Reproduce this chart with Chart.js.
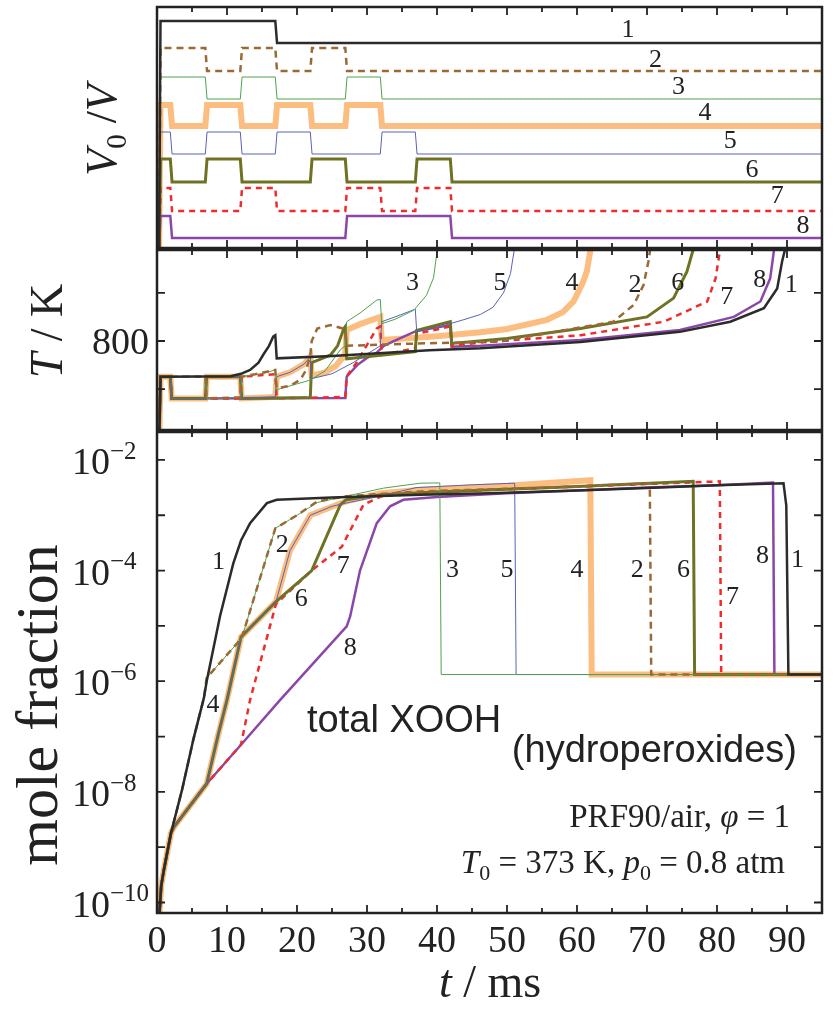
<!DOCTYPE html>
<html>
<head>
<meta charset="utf-8">
<script src="https://cdn.jsdelivr.net/npm/chart.js@4.4.1/dist/chart.umd.min.js"></script>
<style>
  body { margin: 0; background: #fff; }
  #wrap { position: relative; width: 836px; height: 1009px; }
  canvas { position: absolute; left: 0; }
</style>
</head>
<body>
<div id="wrap">
  <canvas id="vol" width="836" height="250" style="top:0px"></canvas>
  <canvas id="temp" width="836" height="182" style="top:249px"></canvas>
  <canvas id="xooh" width="836" height="578" style="top:431px"></canvas>
</div>
<script>
// ---- compression histories: offset levels of V0/V and switching times (ms)
const vLow  = [20.5, 17.7, 14.9, 12.2, 9.4, 6.6, 3.7, 1.0];
const vHigh = [22.7, 20.0, 17.1, 14.3, 11.6, 8.9, 6.0, 3.2];
const vEdges = [
  [17],
  [7, 12, 17, 22, 27],
  [7, 12, 17, 27, 32],
  [2, 7, 12, 17, 22, 27, 32],
  [2, 7, 12, 17, 22, 32, 37],
  [2, 7, 12, 22, 27, 37, 42],
  [2, 12, 17, 27, 32, 37, 42],
  [2, 27, 42]
];

// ---- temperature, [t ms, T K]
const temp1 = [[0,373],[0.5,726],[10.5,727],[12,732],[13.3,740],[14.5,755],[15.2,772],[16,790],[16.6,809],[16.9,812],[17.1,764],[25,769],[38.9,781],[46.2,785],[60.5,798],[74.7,819],[81.9,840],[86.7,868],[88.6,909],[89.3,965],[89.8,995]];
const temp2 = [[0,373],[0.5,726],[6.9,726],[7.1,681],[11.9,683],[12.1,726],[14,731],[16.9,740],[17.1,702],[19,707],[20.5,720],[21.3,740],[21.9,770],[22.1,800],[22.9,826],[24.8,833],[26.5,826],[26.9,820],[27.1,790],[35,794],[49,799],[55.7,816],[65.2,840],[68.1,875],[69.5,916],[70.2,965],[70.5,995]];
const temp3 = [[0,373],[0.5,726],[6.9,726],[7.1,681],[11.9,683],[12.1,726],[15.2,733],[16.9,740],[17.1,699],[21.9,719],[24,738],[26.2,782],[26.9,790],[27.1,840],[29,858],[31.4,885],[31.9,886],[32.1,836],[34,845],[36.7,864],[37.1,871],[38.5,895],[39.5,931],[40.1,995]];
const temp4 = [[0,373],[0.5,726],[1.9,726],[2.1,681],[6.9,681],[7.1,726],[11.9,726],[12.1,681],[16.9,684],[17.1,726],[19,735],[21,752],[21.9,767],[22.1,728],[24,735],[25.5,748],[26.5,765],[26.9,775],[27.1,823],[29,835],[31.9,850],[32.1,802],[40,810],[46.2,818],[50,825],[55.7,844],[58,860],[59.5,882],[60.8,920],[61.4,944],[62,995]];
const temp5 = [[0,373],[0.5,726],[1.9,726],[2.1,681],[6.9,681],[7.1,726],[11.9,726],[12.1,681],[16.9,684],[17.1,726],[19,735],[21,752],[21.9,767],[22.1,722],[25,732],[28,755],[31.9,790],[32.1,840],[34,850],[36.9,866],[37.1,820],[40,828],[44,845],[46.2,855],[48,870],[49.5,900],[50.5,940],[51.1,995]];
const temp6 = [[0,373],[0.5,726],[1.9,726],[2.1,681],[6.9,681],[7.1,726],[11.9,726],[12.1,681],[21.9,683],[22.1,755],[24.8,771],[25.8,790],[26.7,826],[26.9,830],[27.1,763],[36.9,778],[37.1,822],[41.9,840],[42.1,795],[50,805],[60.5,826],[70,850],[73.8,889],[75.7,944],[76.7,995]];
const temp7 = [[0,373],[0.5,726],[1.9,726],[2.1,681],[11.9,681],[12.1,726],[16.9,731],[17.1,681],[26.9,684],[27.1,727],[28.6,757],[30,792],[31.4,826],[31.9,830],[32.1,771],[36.9,785],[37.1,815],[41.9,830],[42.1,790],[46.2,797],[60.5,812],[72.4,840],[78.6,882],[79.8,930],[80.5,995]];
const temp8 = [[0,373],[0.5,726],[1.9,726],[2.1,681],[26.9,682],[27.1,726],[28.6,750],[30,765],[31.4,776],[32.4,790],[34.3,803],[36.9,820],[41.9,833],[42.1,788],[46.2,790],[60.5,802],[74.7,823],[82.4,850],[86.2,882],[87.6,930],[88.2,995]];

// ---- total XOOH mole fraction, [t ms, x]
const xooh1 = [[0.3,5e-11],[0.6,2e-10],[1.0,4e-10],[2.0,1.8e-9],[3.6,1.12e-8],[5.2,8.9e-8],[6.7,5.0e-7],[7.1,1.0e-6],[9.0,1.5e-5],[10.9,1.35e-4],[12.0,3.5e-4],[13.3,7.2e-4],[15.7,1.66e-3],[17.1,1.9e-3],[25,2.1e-3],[37.6,2.34e-3],[47.6,2.5e-3],[60,2.8e-3],[70,3.1e-3],[80,3.5e-3],[89.5,3.8e-3],[89.9,1.5e-3],[90.2,1.32e-6],[95,1.32e-6]];
const xooh2 = [[0.3,5e-11],[0.6,2e-10],[1.0,4e-10],[2.0,1.8e-9],[3.6,1.12e-8],[5.2,8.9e-8],[6.7,5.0e-7],[7.1,1.15e-6],[12.1,6.0e-6],[16.9,5.8e-4],[20,1.0e-3],[22.9,1.78e-3],[27,2.2e-3],[37.6,2.7e-3],[50,3.0e-3],[60,3.3e-3],[70.4,3.8e-3],[70.6,1.32e-6],[95,1.32e-6]];
const xooh3 = [[0.3,5e-11],[0.6,2e-10],[1.0,4e-10],[2.0,1.8e-9],[3.6,1.12e-8],[5.2,8.9e-8],[6.7,5.0e-7],[7.1,1.15e-6],[12.1,6.0e-6],[16.9,5.8e-4],[20,1.0e-3],[22.9,1.7e-3],[25.7,2.04e-3],[32.4,3.1e-3],[37.6,3.8e-3],[40.4,3.85e-3],[40.6,1.32e-6],[95,1.32e-6]];
const xooh4 = [[0.3,5e-11],[0.6,2e-10],[1.0,4e-10],[2.0,1.8e-9],[2.4,2.3e-9],[7.1,1.4e-8],[7.9,3.8e-8],[8.8,1.15e-7],[10,4.6e-7],[12,6.3e-6],[17,2.75e-5],[19,2.3e-4],[21.9,1.0e-3],[25.7,1.55e-3],[27,1.78e-3],[32,2.5e-3],[37.6,2.9e-3],[50,3.4e-3],[61.9,4.3e-3],[62.1,1.32e-6],[95,1.32e-6]];
const xooh5 = [[0.3,5e-11],[0.6,2e-10],[1.0,4e-10],[2.0,1.8e-9],[2.4,2.3e-9],[7.1,1.4e-8],[7.9,3.8e-8],[8.8,1.15e-7],[10,4.6e-7],[12,6.3e-6],[17,2.75e-5],[19,2.3e-4],[21.9,1.0e-3],[25,1.45e-3],[27,1.66e-3],[32,2.24e-3],[37,3.16e-3],[45,3.55e-3],[51.1,3.8e-3],[51.3,1.32e-6],[95,1.32e-6]];
const xooh6 = [[0.3,5e-11],[0.6,2e-10],[1.0,4e-10],[2.0,1.8e-9],[2.4,2.3e-9],[7.1,1.4e-8],[7.9,3.8e-8],[8.8,1.15e-7],[10,4.6e-7],[12,6.3e-6],[17,2.75e-5],[22.1,1.0e-4],[26.2,1.55e-3],[27,1.9e-3],[32,2.34e-3],[40,2.63e-3],[60,3.3e-3],[76.6,4.1e-3],[76.8,1.32e-6],[95,1.32e-6]];
const xooh7 = [[0.3,5e-11],[0.6,2e-10],[1.0,4e-10],[2.0,1.8e-9],[2.4,2.3e-9],[7.1,1.4e-8],[12,7.1e-8],[13.3,4.6e-7],[17,2.5e-5],[22.1,1.0e-4],[26.4,2.7e-4],[29.5,1.55e-3],[32,2.2e-3],[40,2.63e-3],[60,3.3e-3],[80.4,4.1e-3],[80.6,1.32e-6],[95,1.32e-6]];
const xooh8 = [[0.3,5e-11],[0.6,2e-10],[1.0,4e-10],[2.0,1.8e-9],[2.4,2.3e-9],[7.1,1.4e-8],[12,7.1e-8],[17.6,4.6e-7],[27.1,9.8e-6],[27.6,1.5e-5],[29,1.0e-4],[31.4,7.2e-4],[33.3,1.45e-3],[35.2,1.9e-3],[40,2.14e-3],[50,2.5e-3],[60,2.8e-3],[70,3.16e-3],[80,3.5e-3],[88.0,3.9e-3],[88.2,1.32e-6],[95,1.32e-6]];

// ---- curve numbers, [t, value] in each panel
const volLabels  = [[67.3,21.8],[71.2,18.8],[74.5,16.1],[78.3,13.5],[81.9,10.7],[85.0,7.8],[88.6,5.2],[92.3,2.2]];
const tempLabels = [[90.6,916],[68.3,916],[36.5,920],[59.3,920],[49.0,920],[74.4,920],[81.4,891],[86.1,927]];
const xoohLabelsA = [[8.8,1.4e-4],[17.9,2.9e-4],[42.2,1.0e-4],[8.0,3.7e-7],[50.0,1.0e-4],[20.6,3.0e-5],[26.6,1.2e-4],[27.6,4.0e-6]];
const xoohLabelsB = [[91.5,1.55e-4],[68.6,1.0e-4],null,[60.0,1.0e-4],null,[75.2,1.0e-4],[82.2,3.3e-5],[86.5,1.8e-4]];

const tempTicks = [700, 800, 900];
const xoohTicks = [1e-10, 1e-9, 1e-8, 1e-7, 1e-6, 1e-5, 1e-4, 1e-3, 1e-2];
const xoohTickLabels = [[1e-2, '−2'], [1e-4, '−4'], [1e-6, '−6'], [1e-8, '−8'], [1e-10, '−10']];
const timeTicks = [0, 10, 20, 30, 40, 50, 60, 70, 80, 90];

const caseColors = ['#2b2b2b', '#9a6a34', '#4fa24f', '#fcbd80', '#5964b4', '#6e7222', '#ef2b2b', '#8b47a8'];
const caseWidths = [2.5, 2.5, 1, 6, 1, 3, 2.5, 2.5];
const caseDash = [[], [7, 5], [], [], [], [], [6, 5], []];

const serif = '"Liberation Serif", "Times New Roman", serif';
const sans = '"Liberation Sans", Arial, sans-serif';
const ink = '#222';

function stepTrace(i) {
  const pts = [[0.3, 0], [0.5, vHigh[i]]];
  let hi = true;
  for (const t of vEdges[i]) {
    pts.push([t - 0.1, hi ? vHigh[i] : vLow[i]]);
    hi = !hi;
    pts.push([t + 0.15, hi ? vHigh[i] : vLow[i]]);
  }
  pts.push([95, hi ? vHigh[i] : vLow[i]]);
  return pts;
}

function makeSets(series) {
  return series.map((pts, i) => ({
    data: pts.map(([x, y]) => ({ x, y })),
    borderColor: caseColors[i],
    borderWidth: caseWidths[i],
    borderDash: caseDash[i],
    pointRadius: 0,
    tension: 0,
    order: i === 3 ? 9 : 0
  }));
}

// text with italic / sub / sup pieces, y is the baseline
function drawRich(ctx, parts, x, y, size, align) {
  let w = 0;
  const segs = parts.map(p => {
    const s = (p.sub || p.sup) ? Math.round(size * 0.66) : size;
    const f = (p.italic ? 'italic ' : '') + s + 'px ' + (p.family || serif);
    ctx.font = f;
    const m = ctx.measureText(p.t).width;
    w += m;
    return Object.assign({}, p, { f, m });
  });
  let cx = align === 'right' ? x - w : align === 'center' ? x - w / 2 : x;
  ctx.textAlign = 'left';
  ctx.textBaseline = 'alphabetic';
  for (const s of segs) {
    ctx.font = s.f;
    const dy = s.sub ? size * 0.22 : s.sup ? -size * 0.4 : 0;
    ctx.fillText(s.t, cx, y + dy);
    cx += s.m;
  }
}

function rotatedTitle(ctx, parts, x, y, size) {
  ctx.save();
  ctx.translate(x, y);
  ctx.rotate(-Math.PI / 2);
  drawRich(ctx, parts, 0, 0, size, 'center');
  ctx.restore();
}

function numberLabels(chart, list) {
  const { ctx, scales } = chart;
  ctx.font = '26px ' + serif;
  ctx.textAlign = 'center';
  ctx.textBaseline = 'middle';
  list.forEach((p, i) => {
    if (!p) return;
    ctx.fillText(String(i + 1), scales.x.getPixelForValue(p[0]), scales.y.getPixelForValue(p[1]));
  });
}

// box with inward ticks on all sides, plus the panel's own text
function framePlugin(yTicks, extra) {
  return {
    id: 'frame',
    afterDatasetsDraw(chart) {
      const { ctx, chartArea: a, scales } = chart;
      ctx.save();
      ctx.strokeStyle = ink;
      ctx.fillStyle = ink;
      ctx.lineWidth = 1.8;
      ctx.beginPath();
      for (let t = 0; t <= 95; t += 5) {
        const px = scales.x.getPixelForValue(t);
        const len = t % 10 === 0 ? 8 : 5;
        ctx.moveTo(px, a.bottom); ctx.lineTo(px, a.bottom - len);
        ctx.moveTo(px, a.top); ctx.lineTo(px, a.top + len);
      }
      for (const v of yTicks) {
        const py = scales.y.getPixelForValue(v);
        ctx.moveTo(a.left, py); ctx.lineTo(a.left + 8, py);
        ctx.moveTo(a.right, py); ctx.lineTo(a.right - 8, py);
      }
      ctx.stroke();
      ctx.lineWidth = 2.5;
      ctx.strokeRect(a.left, a.top, a.right - a.left, a.bottom - a.top);
      extra(chart, ctx, a, scales);
      ctx.restore();
    }
  };
}

function baseOptions(yScale, padTop, padBottom) {
  return {
    responsive: false,
    animation: false,
    events: [],
    layout: { padding: { left: 157, right: 14, top: padTop, bottom: padBottom } },
    plugins: { legend: { display: false }, tooltip: { enabled: false } },
    scales: {
      x: { type: 'linear', min: 0, max: 95, display: false },
      y: Object.assign({ display: false }, yScale)
    }
  };
}

// V0/V panel
new Chart(document.getElementById('vol'), {
  type: 'line',
  data: { datasets: makeSets(vLow.map((_, i) => stepTrace(i))) },
  options: baseOptions({ type: 'linear', min: 0, max: 24.1 }, 7, 2),
  plugins: [framePlugin([], (chart, ctx, a) => {
    numberLabels(chart, volLabels);
    rotatedTitle(ctx, [{ t: 'V', italic: true }, { t: '0', sub: true }, { t: ' /' }, { t: 'V', italic: true }], 116, 130, 44);
  })]
});

// temperature panel
new Chart(document.getElementById('temp'), {
  type: 'line',
  data: { datasets: makeSets([temp1, temp2, temp3, temp4, temp5, temp6, temp7, temp8]) },
  options: baseOptions({ type: 'linear', min: 615.4, max: 988.8 }, 1, 1),
  plugins: [framePlugin(tempTicks, (chart, ctx, a, scales) => {
    numberLabels(chart, tempLabels);
    drawRich(ctx, [{ t: '800' }], 149, scales.y.getPixelForValue(800) + 13, 38, 'right');
    rotatedTitle(ctx, [{ t: 'T', italic: true }, { t: ' / K' }], 62, 82, 46);
  })]
});

// XOOH panel with the shared time axis
new Chart(document.getElementById('xooh'), {
  type: 'line',
  data: { datasets: makeSets([xooh1, xooh2, xooh3, xooh4, xooh5, xooh6, xooh7, xooh8]) },
  options: baseOptions({ type: 'logarithmic', min: 6.46e-11, max: 3.2e-2 }, 1, 96),
  plugins: [framePlugin(xoohTicks, (chart, ctx, a, scales) => {
    numberLabels(chart, xoohLabelsA);
    numberLabels(chart, xoohLabelsB);
    for (const [v, e] of xoohTickLabels) {
      drawRich(ctx, [{ t: '10' }, { t: e, sup: true }], 72, scales.y.getPixelForValue(v) + 14, 38, 'left');
    }
    ctx.textAlign = 'center';
    ctx.textBaseline = 'alphabetic';
    ctx.font = '38px ' + serif;
    for (const t of timeTicks) ctx.fillText(String(t), scales.x.getPixelForValue(t), a.bottom + 39);
    drawRich(ctx, [{ t: 't', italic: true }, { t: ' / ms' }], 490, a.bottom + 84, 46, 'center');
    rotatedTitle(ctx, [{ t: 'mole fraction' }], 57, 274, 60);

    ctx.font = '38px ' + sans;
    ctx.textAlign = 'left';
    ctx.fillText('total XOOH', 307, 301);
    ctx.textAlign = 'right';
    ctx.fillText('(hydroperoxides)', 797, 331);
    drawRich(ctx, [{ t: 'PRF90/air, ' }, { t: 'φ', italic: true }, { t: ' = 1' }], 790, 396, 33, 'right');
    drawRich(ctx, [{ t: 'T', italic: true }, { t: '0', sub: true }, { t: ' = 373 K, ' }, { t: 'p', italic: true }, { t: '0', sub: true }, { t: ' = 0.8 atm' }], 785, 442, 33, 'right');
  })]
});
</script>
</body>
</html>
